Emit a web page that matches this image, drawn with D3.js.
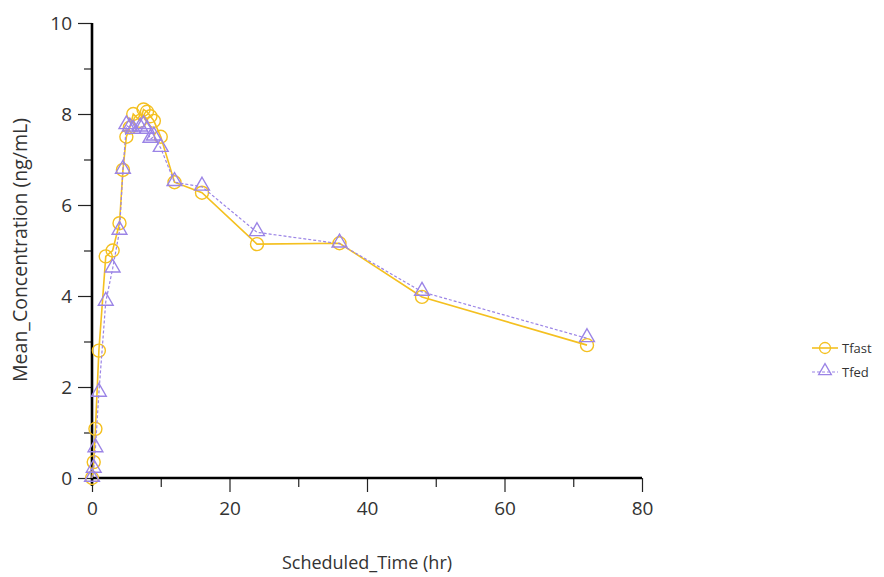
<!DOCTYPE html>
<html><head><meta charset="utf-8">
<script src="https://cdn.jsdelivr.net/npm/d3@7/dist/d3.min.js"></script>
<style>body{margin:0;background:#fff}svg{display:block}text{font-family:"Open Sans",sans-serif}</style>
</head><body><svg id="c" width="884" height="577"></svg>
<script>
const times = [0,0.25,0.5,1,2,3,4,4.5,5,5.5,6,7,7.5,8,8.5,9,10,12,16,24,36,48,72];
const tfast = [0,0.35,1.08,2.8,4.87,5.0,5.6,6.77,7.5,7.7,8.0,7.85,8.1,8.05,7.95,7.85,7.5,6.5,6.27,5.14,5.16,3.98,2.92];
const tfed  = [0,0.2,0.65,1.87,3.87,4.6,5.43,6.77,7.75,7.7,7.65,7.7,7.75,7.65,7.45,7.5,7.25,6.5,6.4,5.4,5.15,4.09,3.07];
const seriesNames = ["Tfast","Tfed"];
const xTicks = [0,20,40,60,80];
const yTicks = [0,2,4,6,8,10];

const svg = d3.select("#c");
const x = d3.scaleLinear().domain([0,80]).range([92,642]);
const y = d3.scaleLinear().domain([0,10]).range([478,23]);
const cYellow = "#F4C020", cPurple = "#9B84E6";

// axes
const gx = svg.append("g").attr("transform","translate(0,478)");
gx.call(d3.axisBottom(x).tickValues(xTicks).tickSize(14).tickPadding(10).tickFormat(d3.format("d")));
gx.append("g").call(d3.axisBottom(x).tickValues([10,30,50,70]).tickSize(9).tickFormat(""));
const gy = svg.append("g").attr("transform","translate(92,0)");
gy.call(d3.axisLeft(y).tickValues(yTicks).tickSize(14).tickPadding(6).tickFormat(d3.format("d")));
gy.append("g").call(d3.axisLeft(y).tickValues([1,3,5,7,9]).tickSize(8).tickFormat(""));
svg.selectAll(".domain").remove();
svg.selectAll(".tick line").attr("stroke","#222").attr("stroke-width",1.2);
svg.selectAll(".tick text").attr("font-size",19).attr("fill","#333");
svg.append("line").attr("x1",x(0)).attr("x2",x(80)).attr("y1",478).attr("y2",478).attr("stroke","#000").attr("stroke-width",2.6);
svg.append("line").attr("x1",92).attr("x2",92).attr("y1",y(10)).attr("y2",486).attr("stroke","#000").attr("stroke-width",2.6);

svg.append("text").attr("x",367).attr("y",569).attr("text-anchor","middle").attr("font-size",18).attr("fill","#333").text("Scheduled_Time (hr)");
svg.append("text").attr("transform","translate(27,250) rotate(-90)").attr("text-anchor","middle").attr("font-size",19.5).attr("fill","#333").text("Mean_Concentration (ng/mL)");

const line = d3.line().x(d=>x(d[0])).y(d=>y(d[1]));
const fastData = times.map((t,i)=>[t,tfast[i]]);
const fedData = times.map((t,i)=>[t,tfed[i]]);
const tri = d3.symbol().type(d3.symbolTriangle).size(95);

svg.append("path").datum(fastData).attr("d",line).attr("fill","none").attr("stroke",cYellow).attr("stroke-width",1.6);
svg.append("g").selectAll("circle").data(fastData).join("circle")
  .attr("cx",d=>x(d[0])).attr("cy",d=>y(d[1])).attr("r",6.5)
  .attr("fill","none").attr("stroke",cYellow).attr("stroke-width",1.4);

svg.append("path").datum(fedData).attr("d",line).attr("fill","none").attr("stroke",cPurple).attr("stroke-width",1.2).attr("stroke-dasharray","3,2");
svg.append("g").selectAll("path").data(fedData).join("path")
  .attr("d",tri).attr("transform",d=>`translate(${x(d[0])},${y(d[1])-1})`)
  .attr("fill","none").attr("stroke",cPurple).attr("stroke-width",1.4);

// legend
const lg = svg.append("g");
lg.append("line").attr("x1",812).attr("x2",838).attr("y1",348).attr("y2",348).attr("stroke",cYellow).attr("stroke-width",1.6);
lg.append("circle").attr("cx",825).attr("cy",348).attr("r",5.5).attr("fill","none").attr("stroke",cYellow).attr("stroke-width",1.3);
lg.append("text").attr("x",842).attr("y",352.5).attr("font-size",13).attr("fill","#333").text(seriesNames[0]);
lg.append("line").attr("x1",812).attr("x2",838).attr("y1",372).attr("y2",372).attr("stroke",cPurple).attr("stroke-width",1.2).attr("stroke-dasharray","3,2");
lg.append("path").attr("d",d3.symbol().type(d3.symbolTriangle).size(70)).attr("transform","translate(825,371)").attr("fill","none").attr("stroke",cPurple).attr("stroke-width",1.3);
lg.append("text").attr("x",842).attr("y",376.5).attr("font-size",13).attr("fill","#333").text(seriesNames[1]);
</script></body></html>
